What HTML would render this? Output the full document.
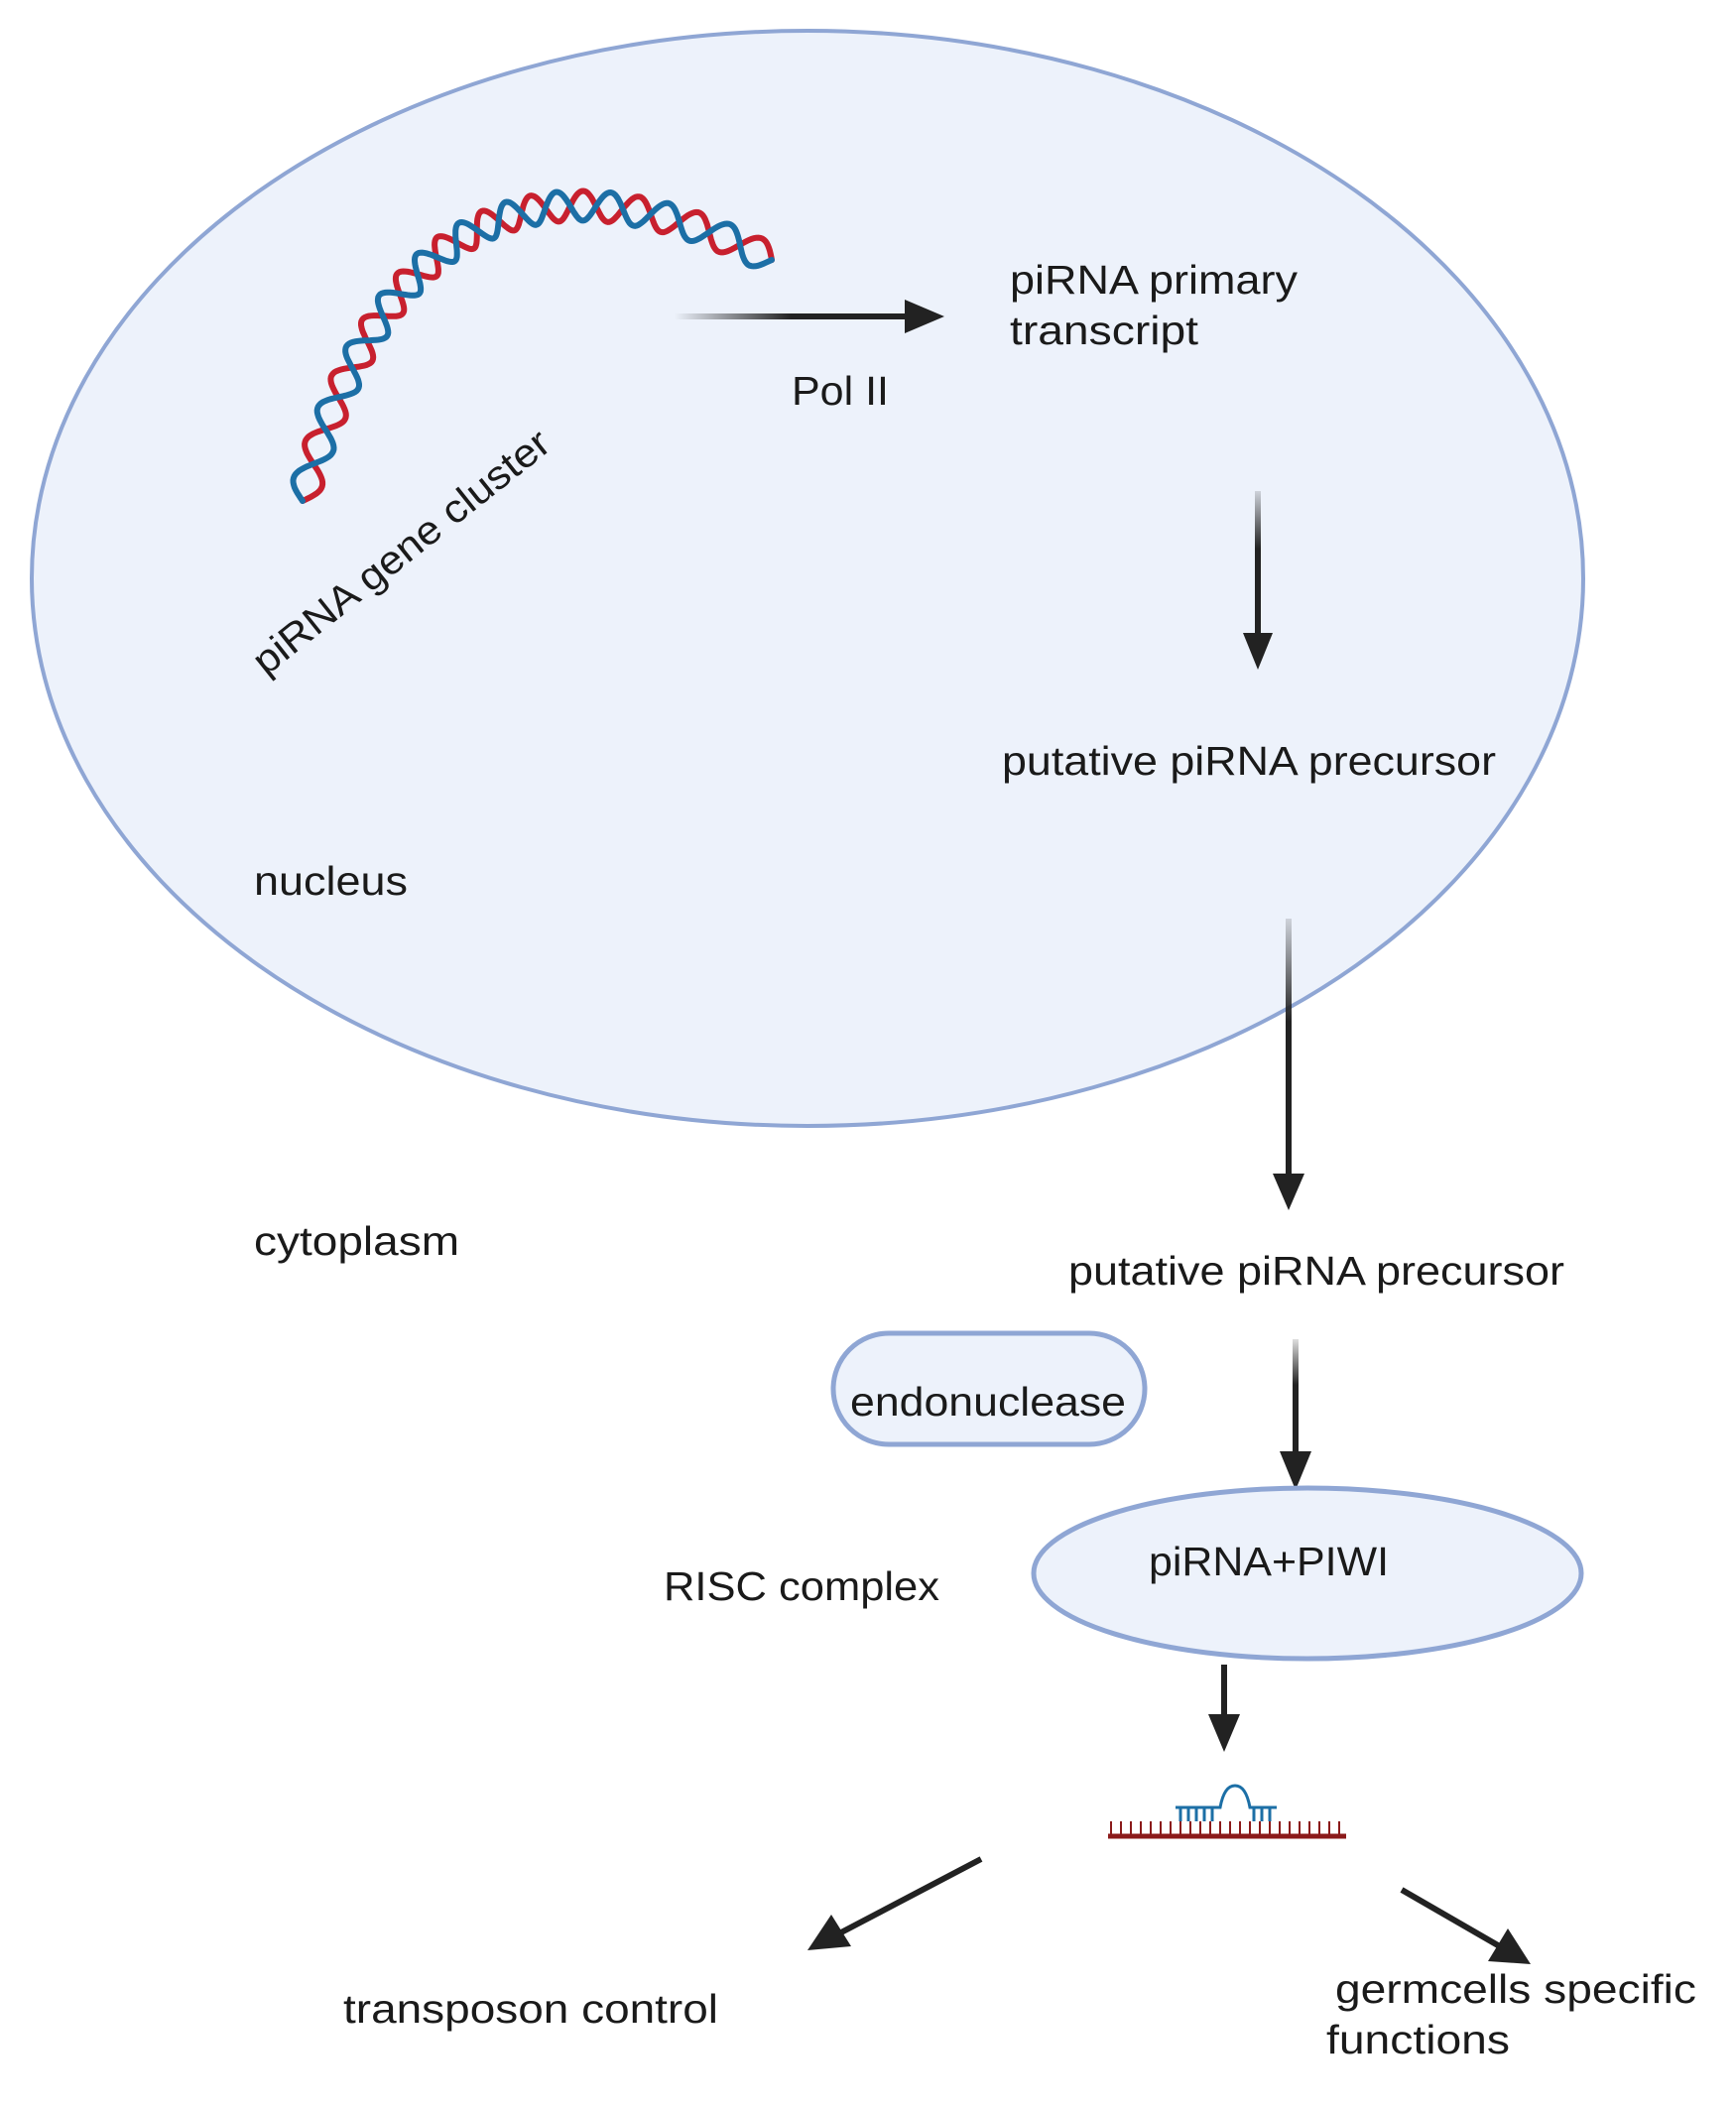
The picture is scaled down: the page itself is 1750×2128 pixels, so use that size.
<!DOCTYPE html>
<html><head><meta charset="utf-8"><style>html,body{margin:0;padding:0;background:#fff}svg{display:block}</style></head>
<body>
<svg id="s" width="1750" height="2128" viewBox="0 0 1750 2128" xmlns="http://www.w3.org/2000/svg" font-family="Liberation Sans, sans-serif" fill="#1a1a1a">
<defs>
<linearGradient id="gh" x1="0" x2="1" y1="0" y2="0"><stop offset="0" stop-color="#222" stop-opacity="0"/><stop offset="0.5" stop-color="#222"/></linearGradient>
<linearGradient id="gv" x1="0" x2="0" y1="0" y2="1"><stop offset="0" stop-color="#222" stop-opacity="0.15"/><stop offset="0.4" stop-color="#222"/></linearGradient>
</defs>
<ellipse cx="814" cy="583" rx="782" ry="552" fill="#edf2fb" stroke="#8fa6d4" stroke-width="4"/>
<path id="red" fill="none" stroke="#c8202e" stroke-width="6" stroke-linecap="round"/>
<path id="blue" fill="none" stroke="#1c6fa6" stroke-width="6" stroke-linecap="round"/>
<text x="0" y="0" font-size="40" transform="translate(268,682) rotate(-38.5)" textLength="370" lengthAdjust="spacingAndGlyphs">piRNA gene cluster</text>
<rect x="680" y="316" width="235" height="6" fill="url(#gh)"/>
<polygon points="912,302 952,319 912,336" fill="#222"/>
<g font-size="41">
<text x="1018" y="296" textLength="290" lengthAdjust="spacingAndGlyphs">piRNA primary</text>
<text x="1018" y="347" textLength="190" lengthAdjust="spacingAndGlyphs">transcript</text>
<text x="798" y="408" textLength="98" lengthAdjust="spacingAndGlyphs">Pol II</text>
<text x="1010" y="781" textLength="498" lengthAdjust="spacingAndGlyphs">putative piRNA precursor</text>
<text x="256" y="902" textLength="155" lengthAdjust="spacingAndGlyphs">nucleus</text>
<text x="256" y="1265" textLength="207" lengthAdjust="spacingAndGlyphs">cytoplasm</text>
<text x="1077" y="1295" textLength="500" lengthAdjust="spacingAndGlyphs">putative piRNA precursor</text>
<text x="669" y="1613" textLength="278" lengthAdjust="spacingAndGlyphs">RISC complex</text>
<text x="346" y="2039" textLength="378" lengthAdjust="spacingAndGlyphs">transposon control</text>
<text x="1346" y="2019" textLength="364" lengthAdjust="spacingAndGlyphs">germcells specific</text>
<text x="1337" y="2070" textLength="185" lengthAdjust="spacingAndGlyphs">functions</text>
</g>
<rect x="1265" y="495" width="6" height="145" fill="url(#gv)"/>
<polygon points="1253,638 1283,638 1268,675" fill="#222"/>
<rect x="1296" y="926" width="6" height="259" fill="url(#gv)"/>
<polygon points="1283,1183 1315,1183 1299,1220" fill="#222"/>
<rect x="840" y="1344" width="314" height="112" rx="56" fill="#edf2fb" stroke="#8fa6d4" stroke-width="5"/>
<text x="857" y="1427" font-size="41" textLength="278" lengthAdjust="spacingAndGlyphs">endonuclease</text>
<rect x="1303" y="1350" width="6" height="115" fill="url(#gv)"/>
<polygon points="1290,1463 1322,1463 1306,1502" fill="#222"/>
<ellipse cx="1318" cy="1586" rx="276" ry="86" fill="#edf2fb" stroke="#8fa6d4" stroke-width="5"/>
<text x="1158" y="1588" font-size="41" textLength="242" lengthAdjust="spacingAndGlyphs">piRNA+PIWI</text>
<line x1="1234" y1="1678" x2="1234" y2="1730" stroke="#222" stroke-width="6"/>
<polygon points="1218,1728 1250,1728 1234,1766" fill="#222"/>
<g>
<line x1="1117" y1="1851" x2="1357" y2="1851" stroke="#8b1a1a" stroke-width="5"/>
<g stroke="#8b1a1a" stroke-width="2">
<path d="M1120,1850v-14M1130,1850v-14M1140,1850v-14M1150,1850v-14M1160,1850v-14M1170,1850v-14M1180,1850v-14M1190,1850v-14M1200,1850v-14M1210,1850v-14M1220,1850v-14M1230,1850v-14M1240,1850v-14M1250,1850v-14M1260,1850v-14M1270,1850v-14M1280,1850v-14M1290,1850v-14M1300,1850v-14M1310,1850v-14M1320,1850v-14M1330,1850v-14M1340,1850v-14M1350,1850v-14"/>
</g>
<g stroke="#1c6fa6" stroke-width="3" fill="none">
<path d="M1185,1822 H1230 Q1234,1800 1245,1800 Q1256,1800 1260,1822 H1287"/>
<path d="M1190,1822v14M1198,1822v14M1206,1822v14M1214,1822v14M1222,1822v14M1264,1822v14M1272,1822v14M1280,1822v14"/>
</g>
</g>
<line x1="989" y1="1874" x2="848" y2="1948" stroke="#222" stroke-width="6"/>
<polygon points="814,1966 838,1930 858,1962" fill="#222"/>
<line x1="1413" y1="1905" x2="1510" y2="1961" stroke="#222" stroke-width="6"/>
<polygon points="1543,1980 1500,1977 1520,1944" fill="#222"/>
</svg>
<script>
(function(){
var P0=[305,505],P1=[420,80],P2=[778,262];
function pt(t){var a=(1-t)*(1-t),b=2*(1-t)*t,c=t*t;return [a*P0[0]+b*P1[0]+c*P2[0],a*P0[1]+b*P1[1]+c*P2[1]];}
function tan(t){var dx=2*(1-t)*(P1[0]-P0[0])+2*t*(P2[0]-P1[0]),dy=2*(1-t)*(P1[1]-P0[1])+2*t*(P2[1]-P1[1]);var l=Math.hypot(dx,dy);return [dx/l,dy/l];}
var N=400,per=11,amp=15,r="",b="";
for(var i=0;i<=N;i++){var t=i/N,p=pt(t),d=tan(t),nx=-d[1],ny=d[0];
var s=Math.sin(t*per*2*Math.PI)*amp;
r+=(i?"L":"M")+(p[0]+nx*s).toFixed(1)+","+(p[1]+ny*s).toFixed(1);
b+=(i?"L":"M")+(p[0]-nx*s).toFixed(1)+","+(p[1]-ny*s).toFixed(1);}
document.getElementById("red").setAttribute("d",r);
document.getElementById("blue").setAttribute("d",b);
})();
</script>
</body></html>
